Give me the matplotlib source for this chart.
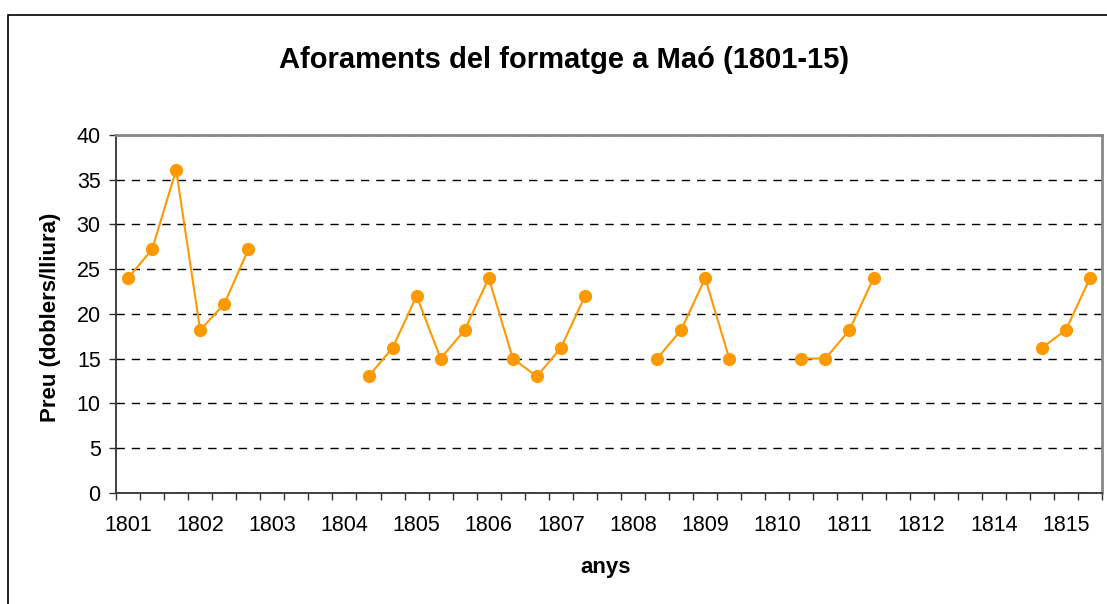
import numpy as np
import matplotlib
matplotlib.use("Agg")
import matplotlib.pyplot as plt
from matplotlib.patches import Rectangle

plt.rcParams['font.family'] = ['Liberation Sans', 'DejaVu Sans']

title = "Aforaments del formatge a Maó (1801-15)"
xlabel = "anys"
ylabel = "Preu (doblers/lliura)"

# category tick labels (shown every 3rd category)
year_labels = ["1801", "1802", "1803", "1804", "1805", "1806", "1807",
               "1808", "1809", "1810", "1811", "1812", "1814", "1815"]

nan = np.nan
prices = [24, 27.2, 36.1, 18.2, 21.1, 27.2,
          nan, nan, nan, nan,
          13, 16.2, 22, 15, 18.2, 24, 15, 13, 16.2, 22,
          nan, nan,
          15, 18.2, 24, 15,
          nan, nan,
          15, 15, 18.2, 24,
          nan, nan, nan, nan, nan, nan,
          16.2, 18.2, 24]

W, H = 1107, 604
fig = plt.figure(figsize=(W / 100, H / 100), dpi=100)

# outer chart border
fig.patches.append(Rectangle((8 / W, -0.2), 1.2, 1.2 - 15 / H,
                             transform=fig.transFigure, fill=False,
                             edgecolor='black', lw=1.2))

ax = fig.add_axes([116 / W, (H - 492.7) / H, (1102 - 116) / W, (492.7 - 135) / H])

x = np.arange(len(prices))
ax.plot(x, prices, color='#FF9900', lw=1.5, marker='o', markersize=8.5,
        markeredgecolor='#FF9900', markerfacecolor='#FF9900', zorder=3)

ax.set_xlim(-0.5, len(prices) - 0.5)
ax.set_ylim(0, 40)
ax.set_yticks(np.arange(0, 41, 5))
ax.yaxis.grid(True, color='black', linestyle=(0, (6, 5)), lw=1.0)
ax.set_axisbelow(True)

ax.set_xticks(np.arange(0, len(prices), 3)[:len(year_labels)])
ax.set_xticklabels(year_labels)
ax.set_xticks(np.arange(-0.5, len(prices) + 0.5, 1), minor=True)
ax.tick_params(axis='x', which='major', length=0, pad=16, labelsize=15.5)
ax.tick_params(axis='x', which='minor', length=5, width=1, color='#333333', direction='out')
ax.tick_params(axis='y', which='major', length=5, width=1, color='#333333', direction='out',
               labelsize=15.5, pad=6)

for s in ['left', 'bottom']:
    ax.spines[s].set_color('#333333')
    ax.spines[s].set_linewidth(1.3)
for s in ['top', 'right']:
    ax.spines[s].set_color('#888888')
    ax.spines[s].set_linewidth(2)

fig.text(564 / W, 1 - 60 / H, title, ha='center', va='center',
         fontsize=21, fontweight='bold')
fig.text(606 / W, 1 - 567 / H, xlabel, ha='center', va='center',
         fontsize=16, fontweight='bold')
fig.text(51 / W, 1 - 317 / H, ylabel, ha='center', va='center',
         fontsize=16, fontweight='bold', rotation=90)

fig.savefig("out.png", dpi=100)
